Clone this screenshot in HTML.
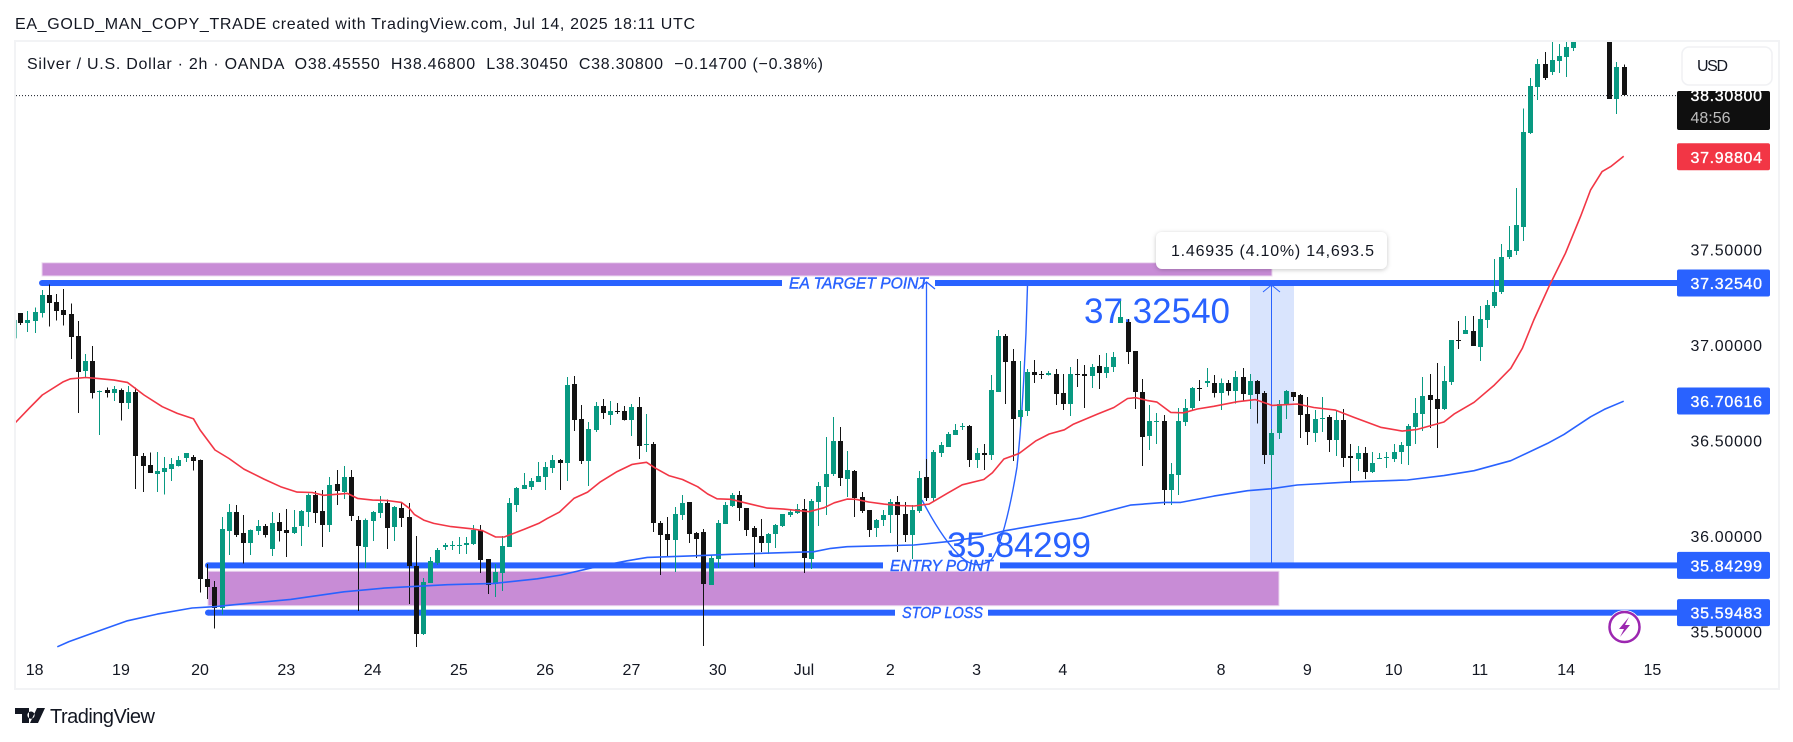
<!DOCTYPE html>
<html lang="en">
<head>
<meta charset="utf-8">
<title>Silver / U.S. Dollar 2h chart</title>
<style>
html,body{margin:0;padding:0;background:#fff;width:1793px;height:742px;overflow:hidden}
svg{position:absolute;left:0;top:0;display:block}
text{font-family:"Liberation Sans","DejaVu Sans",sans-serif;fill:#131722}
</style>
</head>
<body>
<svg id="chart" xmlns="http://www.w3.org/2000/svg" width="1793" height="742" viewBox="0 0 1793 742">
  <defs>
    <clipPath id="plot-clip"><rect x="16" y="42" width="1661" height="646"/></clipPath>
    <filter id="tip-shadow" x="-10%" y="-30%" width="120%" height="170%"><feDropShadow dx="0" dy="1" stdDeviation="2.5" flood-color="#000" flood-opacity="0.22"/></filter>
  </defs>

  <text x="15" y="29" font-size="16" textLength="680">EA_GOLD_MAN_COPY_TRADE created with TradingView.com, Jul 14, 2025 18:11 UTC</text>

  <g fill="#f2f3f5">
    <rect x="14" y="40" width="1766" height="2"/>
    <rect x="14" y="688" width="1766" height="2"/>
    <rect x="14" y="40" width="2" height="650"/>
    <rect x="1778" y="40" width="2" height="650"/>
  </g>

  <g id="drawings-under" clip-path="url(#plot-clip)"></g>
  <g id="candles" clip-path="url(#plot-clip)"></g>
  <g id="emas" clip-path="url(#plot-clip)"></g>

  <g>
    <rect x="1156" y="232" width="231" height="37" rx="6" fill="#fff" filter="url(#tip-shadow)"/>
    <text x="1171" y="256" font-size="16" textLength="203">1.46935 (4.10%) 14,693.5</text>
  </g>

  <text x="27" y="69" font-size="16" textLength="796" xml:space="preserve">Silver / U.S. Dollar · 2h · OANDA  O38.45550  H38.46800  L38.30450  C38.30800  −0.14700 (−0.38%)</text>

  <g id="price-axis"></g>
  <g id="time-axis"></g>

  <g>
    <rect x="1682" y="47" width="90" height="38" rx="7" fill="#fff" stroke="#f0f1f4" stroke-width="1.5"/>
    <text x="1697" y="71" font-size="16" textLength="31">USD</text>
  </g>

  <g>
    <circle cx="1624.5" cy="627" r="17" fill="#fff"/>
    <circle cx="1624.5" cy="627" r="15" fill="#fff" stroke="#9c27b0" stroke-width="2.5"/>
    <path d="M1629 617 L1619 629 L1624 629 L1620 637 L1630 625 L1625 625 Z" fill="#9c27b0"/>
  </g>

  <g>
    <path fill="#131722" d="M15 708 H29 V723 H22 V714 H15 Z M31 711.5 a3.6 3.6 0 1 0 0.01 0 Z M37 708 H45 L38 723 H30 Z"/>
    <text x="50" y="723" font-size="20" textLength="105">TradingView</text>
  </g>
</svg>

<script>
// ---- price series, one entry per 2h bar ----
const opens = [37.167,37.117,37.125,37.169,37.261,37.225,37.183,37.162,37.047,36.864,36.916,36.755,36.764,36.750,36.764,36.698,36.754,36.419,36.371,36.326,36.337,36.350,36.366,36.408,36.413,36.398,35.775,35.733,35.624,36.026,36.125,36.015,35.963,36.026,36.052,35.932,36.073,36.031,36.015,36.052,36.125,36.214,36.131,36.057,36.272,36.230,36.309,36.083,35.942,36.078,36.120,36.172,36.047,36.146,36.099,35.843,35.487,35.754,35.858,35.942,35.946,35.947,35.953,35.958,36.031,35.879,35.748,35.806,35.942,36.162,36.246,36.256,36.282,36.309,36.356,36.398,36.382,36.796,36.612,36.392,36.555,36.680,36.633,36.652,36.654,36.607,36.675,36.476,36.481,36.068,36.010,35.979,36.110,36.178,36.015,36.021,35.743,35.879,36.063,36.157,36.214,36.146,36.042,35.999,35.963,36.010,36.052,36.110,36.120,36.141,35.879,36.178,36.256,36.325,36.497,36.298,36.340,36.204,36.136,36.042,36.083,36.110,36.178,36.115,36.005,36.131,36.309,36.199,36.434,36.466,36.528,36.570,36.576,36.398,36.433,36.424,36.754,37.047,36.916,36.623,36.654,36.858,36.848,36.843,36.848,36.748,36.691,36.848,36.848,36.837,36.890,36.853,36.885,37.115,37.120,36.968,36.754,36.523,36.597,36.602,36.241,36.319,36.597,36.670,36.775,36.801,36.799,36.747,36.799,36.757,36.832,36.738,36.811,36.748,36.424,36.539,36.686,36.754,36.738,36.638,36.539,36.612,36.623,36.502,36.607,36.419,36.403,36.434,36.335,36.405,36.410,36.403,36.439,36.471,36.570,36.638,36.738,36.717,36.665,36.806,37.026,37.057,37.073,36.989,37.131,37.204,37.278,37.461,37.492,37.620,38.110,38.351,38.471,38.429,38.487,38.508,38.555,38.64,38.72,38.88,38.88,38.76,38.288,38.4555];
const highs = [37.167,37.178,37.197,37.288,37.317,37.267,37.293,37.218,37.125,36.953,36.994,36.761,36.778,36.785,36.773,36.785,36.778,36.434,36.438,36.439,36.413,36.408,36.420,36.434,36.424,36.401,35.853,35.764,36.099,36.167,36.162,36.110,36.033,36.083,36.063,36.125,36.120,36.141,36.136,36.136,36.223,36.235,36.241,36.309,36.345,36.366,36.345,36.104,36.092,36.131,36.209,36.192,36.157,36.178,36.172,35.999,35.780,35.890,35.937,35.963,35.973,35.995,35.995,36.057,36.057,35.879,35.853,35.999,36.199,36.256,36.330,36.303,36.387,36.387,36.424,36.403,36.832,36.837,36.686,36.597,36.701,36.717,36.706,36.696,36.680,36.691,36.727,36.638,36.492,36.078,36.099,36.152,36.214,36.178,36.021,36.036,35.900,36.083,36.178,36.225,36.235,36.146,36.052,36.089,36.015,36.063,36.115,36.136,36.167,36.194,36.194,36.282,36.518,36.623,36.570,36.445,36.345,36.230,36.136,36.089,36.136,36.194,36.209,36.178,36.162,36.340,36.403,36.450,36.492,36.544,36.586,36.591,36.581,36.460,36.481,36.843,37.078,37.057,36.979,36.916,36.874,36.921,36.864,36.864,36.874,36.848,36.885,36.926,36.895,36.900,36.947,36.958,36.963,37.230,37.136,36.968,36.822,36.686,36.644,36.633,36.382,36.670,36.717,36.780,36.816,36.879,36.843,36.825,36.816,36.864,36.879,36.848,36.816,36.759,36.560,36.712,36.764,36.754,36.743,36.727,36.659,36.727,36.633,36.654,36.665,36.481,36.471,36.466,36.439,36.434,36.439,36.481,36.492,36.586,36.722,36.832,36.848,36.906,36.890,37.026,37.125,37.152,37.152,37.204,37.235,37.450,37.529,37.623,37.822,38.239,38.398,38.498,38.534,38.649,38.576,38.597,38.649,38.78,38.90,38.95,38.92,38.88,38.482,38.468];
const lows = [37.104,37.068,37.064,37.143,37.096,37.127,37.101,36.928,36.645,36.830,36.719,36.528,36.724,36.708,36.604,36.665,36.246,36.230,36.330,36.230,36.216,36.289,36.363,36.387,36.342,35.703,35.670,35.515,35.590,35.900,35.996,35.855,35.900,36.005,35.993,35.895,35.970,35.890,36.010,35.947,36.047,36.068,35.942,36.021,36.162,36.193,36.078,35.607,35.832,35.973,36.094,35.932,35.973,36.047,35.644,35.420,35.481,35.754,35.848,35.926,35.926,35.905,35.905,35.953,35.806,35.696,35.680,35.712,35.942,36.125,36.246,36.241,36.282,36.241,36.330,36.241,36.288,36.549,36.377,36.261,36.544,36.612,36.581,36.638,36.604,36.523,36.403,36.439,36.021,35.796,35.890,35.811,36.083,35.963,35.884,35.424,35.743,35.832,36.063,36.152,36.078,35.999,35.837,35.916,35.905,35.937,36.047,36.099,36.115,35.806,35.827,36.052,36.110,36.314,36.261,36.204,36.099,36.120,35.995,35.995,36.052,36.015,35.916,35.968,35.879,36.120,36.183,36.178,36.413,36.466,36.528,36.555,36.361,36.356,36.345,36.398,36.754,36.691,36.392,36.572,36.628,36.801,36.822,36.841,36.686,36.659,36.628,36.780,36.670,36.775,36.769,36.827,36.858,37.115,36.900,36.665,36.366,36.450,36.481,36.162,36.162,36.214,36.576,36.659,36.706,36.780,36.726,36.659,36.736,36.694,36.703,36.665,36.590,36.377,36.293,36.508,36.612,36.706,36.513,36.476,36.492,36.544,36.439,36.419,36.361,36.277,36.340,36.298,36.330,36.403,36.356,36.387,36.377,36.371,36.481,36.549,36.565,36.460,36.659,36.790,36.979,37.057,36.994,36.916,37.089,37.194,37.267,37.450,37.471,37.545,38.105,38.283,38.388,38.414,38.424,38.403,38.539,38.62,38.66,38.76,38.70,38.288,38.210,38.3045];
const closes = [37.117,37.131,37.172,37.261,37.221,37.178,37.159,37.043,36.860,36.916,36.750,36.761,36.750,36.769,36.698,36.754,36.420,36.368,36.331,36.340,36.356,36.377,36.398,36.434,36.394,35.776,35.734,35.624,36.036,36.125,36.005,35.963,36.031,36.052,36.005,36.068,36.026,36.015,36.047,36.131,36.214,36.120,36.057,36.267,36.235,36.309,36.104,35.947,36.083,36.125,36.172,36.042,36.152,36.094,35.843,35.487,35.759,35.869,35.926,35.953,35.953,35.951,35.961,36.031,35.874,35.743,35.811,35.947,36.172,36.251,36.267,36.288,36.314,36.361,36.398,36.382,36.790,36.607,36.392,36.560,36.680,36.644,36.654,36.647,36.607,36.675,36.471,36.481,36.068,36.005,35.979,36.115,36.172,36.010,35.984,35.748,35.884,36.068,36.162,36.214,36.146,36.031,35.995,35.963,36.010,36.057,36.115,36.125,36.141,35.884,36.183,36.261,36.325,36.497,36.303,36.345,36.199,36.131,36.031,36.083,36.110,36.178,36.110,36.005,36.136,36.303,36.199,36.439,36.476,36.534,36.555,36.576,36.398,36.434,36.426,36.764,37.047,36.911,36.612,36.659,36.858,36.843,36.843,36.853,36.743,36.691,36.848,36.843,36.837,36.885,36.853,36.885,36.937,37.146,36.963,36.754,36.518,36.602,36.600,36.241,36.325,36.602,36.670,36.775,36.769,36.811,36.747,36.799,36.757,36.832,36.743,36.811,36.743,36.424,36.539,36.691,36.759,36.727,36.633,36.544,36.612,36.617,36.502,36.607,36.408,36.408,36.434,36.335,36.382,36.408,36.413,36.439,36.476,36.576,36.644,36.733,36.712,36.665,36.811,37.026,37.021,37.078,36.994,37.136,37.209,37.278,37.461,37.498,37.628,38.115,38.356,38.471,38.398,38.492,38.513,38.560,38.632,38.72,38.85,38.80,38.76,38.288,38.456,38.308];

// ---- moving averages: sampled bar numbers and values ----
const redEmaBars = [0.31,2.21,4.06,6.99,8,10.09,11.71,14.03,15.9,18.2,20.75,22.84,25.07,26,28.08,30.03,32.1,34.9,37.2,39.5,41.6,43.2,46.5,47.9,50,52,54,55.1,55.8,57.1,58.5,60.9,64.1,65.3,67.1,68.3,71.1,73.1,74.3,76,78,79.9,81.7,84,86.1,88.1,89.4,91.2,93.1,95.2,96.6,97.9,99.8,102.1,104.9,107.2,110.7,112.8,114.2,116,117.2,119,121.1,123.4,125.3,127.4,129.9,132,135,136.2,137.8,139.9,142.2,144.1,146.2,147.5,150.8,153.1,155,156.1,157.7,159.1,161,162.8,164.7,167,170.3,172.8,175.1,178.6,180.9,183.9,186.5,190.2,193.2,195.3,199,200.4,203.2,206,208.3,209.9,211.5,213.6,215.9,218,219.4,221,222.2,224];
const redEmaValues = [36.593,36.668,36.738,36.808,36.823,36.830,36.825,36.816,36.804,36.738,36.677,36.642,36.614,36.555,36.450,36.406,36.350,36.298,36.258,36.230,36.228,36.213,36.223,36.197,36.188,36.186,36.176,36.145,36.113,36.083,36.066,36.049,36.036,36.028,35.995,35.995,36.035,36.066,36.092,36.125,36.197,36.230,36.284,36.337,36.375,36.386,36.354,36.316,36.296,36.258,36.220,36.195,36.192,36.171,36.146,36.141,36.127,36.148,36.174,36.193,36.192,36.178,36.167,36.159,36.157,36.167,36.223,36.268,36.296,36.331,36.403,36.432,36.497,36.534,36.556,36.586,36.638,36.673,36.720,36.724,36.710,36.701,36.647,36.645,36.665,36.679,36.703,36.714,36.684,36.691,36.673,36.659,36.621,36.569,36.549,36.558,36.597,36.638,36.700,36.790,36.878,36.982,37.131,37.305,37.480,37.672,37.812,37.908,37.934,37.988];
const blueEmaBars = [6.15,7.77,11.25,15.9,20.06,24.9,27.94,32.6,38.6,46,51.6,55.8,60.4,66.9,72.9,76.2,80.8,85.4,88.2,95.2,99.8,111.4,113.7,116,125.3,129.9,134.6,138,143.8,148.5,155.4,160.1,162.4,167,171.7,174.9,178.6,185.6,193.9,199,203.2,208.3,213.4,215.7,219.4,221.3,224];
const blueEmaValues = [35.420,35.447,35.494,35.556,35.591,35.623,35.630,35.647,35.668,35.708,35.727,35.736,35.745,35.752,35.776,35.796,35.836,35.870,35.888,35.897,35.904,35.918,35.935,35.944,35.953,35.970,35.996,36.028,36.066,36.094,36.162,36.176,36.176,36.209,36.237,36.247,36.267,36.282,36.293,36.316,36.342,36.394,36.485,36.532,36.624,36.663,36.706];

// ---- axes ----
const priceTicks = [35.5,36,36.5,37,37.5];
const timeTickBars = [3,15,26,38,50,62,74,86,98,110,122,134,146,168,180,192,204,216,228];
const timeTickLabels = ['18','19','20','23','24','25','26','27','30','Jul','2','3','4','8','9','10','11','14','15'];

// ---- horizontal levels and price tags ----
const targetLevel = 37.3254;
const entryLevel = 35.84299;
const stopLevel = 35.59483;
const lastPrice = 38.308;
const redTagValue = 37.98804;
const blueTagValue = 36.70616;

const NS = 'http://www.w3.org/2000/svg';
function priceY(p){ return 345 + (37 - p) * 191; }
function levelY(p){ return 345 + (37 - p) * 190.5; }
function barX(b){ return 20.3 + 7.19 * (b - 1); }
function make(tag, attrs, parent){
  const el = document.createElementNS(NS, tag);
  for (const k in attrs) el.setAttribute(k, attrs[k]);
  parent.appendChild(el);
  return el;
}
const under = document.getElementById('drawings-under');
const candleLayer = document.getElementById('candles');
const emaLayer = document.getElementById('emas');
const priceAxis = document.getElementById('price-axis');
const timeAxis = document.getElementById('time-axis');
const BLUE = '#2962ff';

// range highlight + zones
const highlight = make('rect', {x:1250, y:levelY(targetLevel), width:44, height:levelY(entryLevel)-levelY(targetLevel), fill:'#d9e4fd'}, under);



const upperZone = make('rect', {x:42, y:priceY(37.4306), width:1230, height:priceY(37.3613)-priceY(37.4306), fill:'#c88cd6', stroke:'#ecd9f0', 'stroke-width':1}, under);



const lowerZone = make('rect', {x:208, y:priceY(35.8155), width:1071, height:priceY(35.6350)-priceY(35.8155), fill:'#c88cd6', stroke:'#ecd9f0', 'stroke-width':1}, under);



// thick levels with centred labels
function drawLevel(price, startX, gapStart, gapEnd, name){
  const y = levelY(price);
  const g = make('g', {}, under);
  
  
  make('circle', {cx:startX+3, cy:y, r:3, fill:BLUE}, g);
  make('rect', {x:startX+3, y:y-3, width:gapStart-startX-3, height:6, fill:BLUE}, g);
  make('rect', {x:gapEnd, y:y-3, width:1677-gapEnd, height:6, fill:BLUE}, g);
}
drawLevel(targetLevel, 39, 782, 935, 'target-level-line');
drawLevel(entryLevel, 205, 883, 1000, 'entry-level-line');
drawLevel(stopLevel, 205, 895, 988, 'stop-level-line');

function levelText(str, x, len, price, name){
  const t = make('text', {x:x, y:levelY(price)+5.5, 'font-size':16, 'font-style':'italic', textLength:len, lengthAdjust:'spacingAndGlyphs', style:'fill:'+BLUE+';stroke:'+BLUE+';stroke-width:0.4'}, under);
  t.textContent = str;
  
  
}
levelText('EA TARGET POINT', 789, 139, targetLevel, 'target-level-label');
levelText('ENTRY POINT', 890, 103, entryLevel, 'entry-level-label');
levelText('STOP LOSS', 902, 81, stopLevel, 'stop-level-label');

// last-price dotted line
const lastLine = make('line', {x1:16, x2:1677, y1:priceY(lastPrice)+0.5, y2:priceY(lastPrice)+0.5, stroke:'#131722', 'stroke-width':1, 'stroke-dasharray':'1 2'}, under);



// big price annotations
const bigTarget = make('text', {x:1084, y:323, 'font-size':35, textLength:146, style:'fill:'+BLUE}, under);
bigTarget.textContent = '37.32540';



const bigEntry = make('text', {x:947, y:557, 'font-size':35, textLength:144, style:'fill:'+BLUE}, under);
bigEntry.textContent = '35.84299';



// measuring arrows and curved path
const measureLeft = make('path', {d:'M926.5 500 V282 M918 289 L926.5 282 L935 289', fill:'none', stroke:BLUE, 'stroke-width':1.3}, under);



const measureRight = make('path', {d:'M1271.5 565 V284 M1263 292 L1271.5 285 L1280 292', fill:'none', stroke:BLUE, 'stroke-width':1}, under);



const curve = make('path', {d:'M922 500 C935 525 948 545 961 557 C970 565 980 568 991 560 C1000 550 1010 510 1017 467 C1022 420 1026 350 1027.5 285', fill:'none', stroke:BLUE, 'stroke-width':1.4}, under);



// lead bar partly hidden behind the frame
const leadHigh = 37.131;
const leadLow = 37.035;
const leadWick = make('rect', {x:16, y:priceY(leadHigh), width:1, height:priceY(leadLow)-priceY(leadHigh), fill:'#089981', opacity:0.6}, candleLayer);



// candles
for (let i = 0; i < opens.length; i++) {
  const up = closes[i] >= opens[i];
  const col = up ? '#089981' : '#131313';
  const cx = Math.round(barX(i + 1));
  const top = Math.round(priceY(Math.max(opens[i], closes[i])));
  const bot = Math.round(priceY(Math.min(opens[i], closes[i])));
  const g = make('g', {'shape-rendering':'crispEdges'}, candleLayer);
  
  
  make('rect', {x:cx, y:priceY(highs[i]), width:1, height:Math.max(1, priceY(lows[i]) - priceY(highs[i])), fill:col}, g);
  make('rect', {x:cx-2, y:top, width:5, height:Math.max(1, bot - top), fill:col}, g);
}

// moving averages
function emaPoints(bars, vals){
  return bars.map(function(b, i){ return barX(b).toFixed(1) + ',' + priceY(vals[i]).toFixed(1); }).join(' ');
}
const redLine = make('polyline', {points:emaPoints(redEmaBars, redEmaValues), fill:'none', stroke:'#f23645', 'stroke-width':1.6, 'stroke-linejoin':'round'}, emaLayer);



const blueLine = make('polyline', {points:emaPoints(blueEmaBars, blueEmaValues), fill:'none', stroke:BLUE, 'stroke-width':1.6, 'stroke-linejoin':'round'}, emaLayer);



// price ticks
priceTicks.forEach(function(p){
  const t = make('text', {x:1690.5, y:priceY(p)+6, 'font-size':16, textLength:71.5}, priceAxis);
  t.textContent = p.toFixed(5);
  
  
});

// time ticks
timeTickBars.forEach(function(b, i){
  const t = make('text', {x:barX(b), y:675, 'font-size':16, 'text-anchor':'middle'}, timeAxis);
  t.textContent = timeTickLabels[i];
  
  
});

// price tags
function priceTag(value, fill, name){
  const y = levelY(value);
  const r = make('rect', {x:1677, y:y-13.5, width:93, height:27, rx:2, fill:fill}, priceAxis);
  
  
  const t = make('text', {x:1690.5, y:y+6, 'font-size':16, textLength:71.5, style:'fill:#fff;stroke:#fff;stroke-width:0.35'}, priceAxis);
  t.textContent = value.toFixed(5);
  
  
}
priceTag(redTagValue, '#f23645', 'red-average-price-tag');
priceTag(targetLevel, BLUE, 'target-price-tag');
priceTag(blueTagValue, BLUE, 'blue-average-price-tag');
priceTag(entryLevel, BLUE, 'entry-price-tag');
priceTag(stopLevel, BLUE, 'stop-price-tag');

// last price tag with countdown, top tucked under the currency button
const lastBox = make('rect', {x:1677, y:91, width:93, height:39, rx:2, fill:'#0f0f0f'}, priceAxis);



const lastText = make('text', {x:1690.5, y:priceY(lastPrice)+6, 'font-size':16, textLength:71.5, style:'fill:#fff;stroke:#fff;stroke-width:0.35'}, priceAxis);
lastText.textContent = lastPrice.toFixed(5);



const countdown = make('text', {x:1690.5, y:priceY(lastPrice)+28, 'font-size':16, textLength:40, style:'fill:#bdbdbd'}, priceAxis);
countdown.textContent = '48:56';


</script>
</body>
</html>
